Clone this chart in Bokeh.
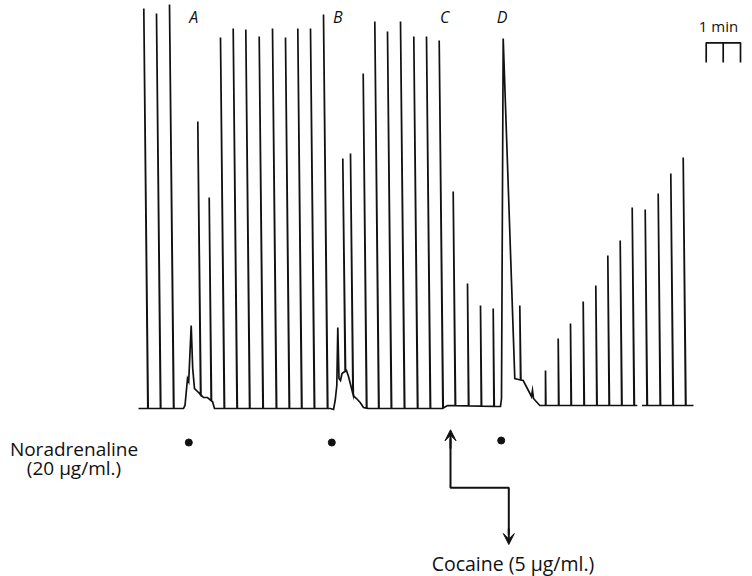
import numpy as np
from bokeh.plotting import figure
from bokeh.models import Range1d, Arrow, VeeHead
from bokeh.core.properties import value
from bokeh.embed import file_html
from bokeh.resources import INLINE

# ---- data (record time in record units, heights above resting baseline) ----
# contraction peaks (time of peak, peak height)
spike_t = [143.3, 156.0, 169.0,
           197.3, 208.7,
           220.0, 232.7, 245.3, 258.7, 272.0, 285.0, 297.3, 310.0, 323.0,
           342.3, 350.0,
           362.7, 374.3, 387.0, 400.0, 413.3, 426.0, 438.7, 452.7, 467.0, 480.0, 492.7,
           519.3,
           545.0, 557.7, 570.0, 582.7, 595.3, 607.3, 619.7, 631.7, 644.7, 657.7, 670.3, 682.7]
spike_h = [400, 395, 404,
           287, 211,
           371, 380, 379, 372, 380, 371, 380, 380, 394,
           250, 255,
           335, 387, 377, 387, 372, 372, 368, 217, 125, 103, 100,
           103,
           38, 70, 85, 107, 123, 153, 168, 201, 199, 215, 235, 251]

# resting-tension trace (baseline and noradrenaline responses A, B, D); NaN = gap in record
base_t = [138, 183, 184.5, 187, 188.2, 190.7, 192.2, 194, 196, 199, 203, 207, 212, 214,
          330, 333, 334.7, 336.3, 337.3, 338.5, 340, 341.5, 346, 348, 353.5, 356, 359.7, 363,
          368, 442, 447, 500, 501, 502.7, 514.3, 518, 522.7, 531, 532, 533, 539.3,
          636.8, 639, 641.5, 693]
base_h = [0, 0, 3, 30, 27, 83, 40, 20, 18, 15, 11, 11, 7, 0,
          0, -1, 8, 23, 81, 30, 28, 35, 38, 32, 12, 10, 6, 1,
          0, 0, 3, 2, 10, 370, 30, 29, 28, 12, 18, 10, 3,
          3, np.nan, 3, 3]

# drug additions
nor_t = [188.3, 331.3, 500.7]
nor_y = [-34, -34, -32]
panel_labels = ["A", "B", "C", "D"]
panel_t = [193.3, 337.3, 444.3, 501.7]
cocaine_t = 450.0
cocaine_t2 = 508.3

SLANT = 0.011
INK = "#111111"
FONT = value("Open Sans")


def build_trace():
    bt = np.array(base_t, float)
    bh = np.array(base_h, float)
    ok = ~np.isnan(bh)
    events = [(x, 0, h) for x, h in zip(bt, bh)]
    for t, h in zip(spike_t, spike_h):
        events.append((t + SLANT * h, 1, t, h))
    events.sort(key=lambda e: e[0])
    xs, ys = [], []
    for e in events:
        if e[1] == 0:
            xs.append(e[0]); ys.append(e[2])
        else:
            bx, _, t, h = e
            lvl = float(np.interp(bx, bt[ok], bh[ok]))
            xs += [bx - 0.4, t, bx]
            ys += [lvl, h, lvl]
    return xs, ys


p = figure(width=752, height=576, output_backend="svg", toolbar_location=None,
           x_range=Range1d(0, 752), y_range=Range1d(-168, 408), min_border=0)
p.axis.visible = False
p.grid.visible = False
p.outline_line_color = None
p.background_fill_color = "white"

tx, ty = build_trace()
p.line(tx, ty, line_color=INK, line_width=1.7, line_join="miter")

# noradrenaline dots
p.scatter(nor_t, nor_y, size=7, color=INK)

# panel letters
p.text(panel_t, [392] * 4, text=panel_labels, text_font=FONT,
       text_font_style="italic", text_font_size="16px", text_align="center",
       text_baseline="middle", text_color=INK)

# time scale bar
p.text([718], [383], text=["1 min"], text_font=FONT, text_font_size="15px",
       text_align="center", text_baseline="middle", text_color=INK)
p.line([705.7, 705.7, 740, 740], [346, 365.7, 365.7, 346], line_color=INK, line_width=1.7)
p.line([722.7, 722.7], [365.7, 346], line_color=INK, line_width=1.7)

# noradrenaline label
p.text([73.5, 73.5], [-40, -59], text=["Noradrenaline", "(20 \u03bcg/ml.)"],
       text_font=FONT, text_font_size="19px", text_align="center",
       text_baseline="middle", text_color=INK)

# cocaine arrow
p.line([cocaine_t, cocaine_t, cocaine_t2, cocaine_t2], [-30, -79.3, -79.3, -126],
       line_color=INK, line_width=2)
p.add_layout(Arrow(end=VeeHead(size=11, fill_color=INK, line_color=INK),
                   x_start=cocaine_t, y_start=-40, x_end=cocaine_t, y_end=-21.3,
                   line_color=INK, line_width=2))
p.add_layout(Arrow(end=VeeHead(size=11, fill_color=INK, line_color=INK),
                   x_start=cocaine_t2, y_start=-120, x_end=cocaine_t2, y_end=-136,
                   line_color=INK, line_width=2))
p.text([512.5], [-155], text=["Cocaine (5 \u03bcg/ml.)"], text_font=FONT,
       text_font_size="19.5px", text_align="center", text_baseline="middle",
       text_color=INK)

open("out.html", "w").write(file_html(p, INLINE))
